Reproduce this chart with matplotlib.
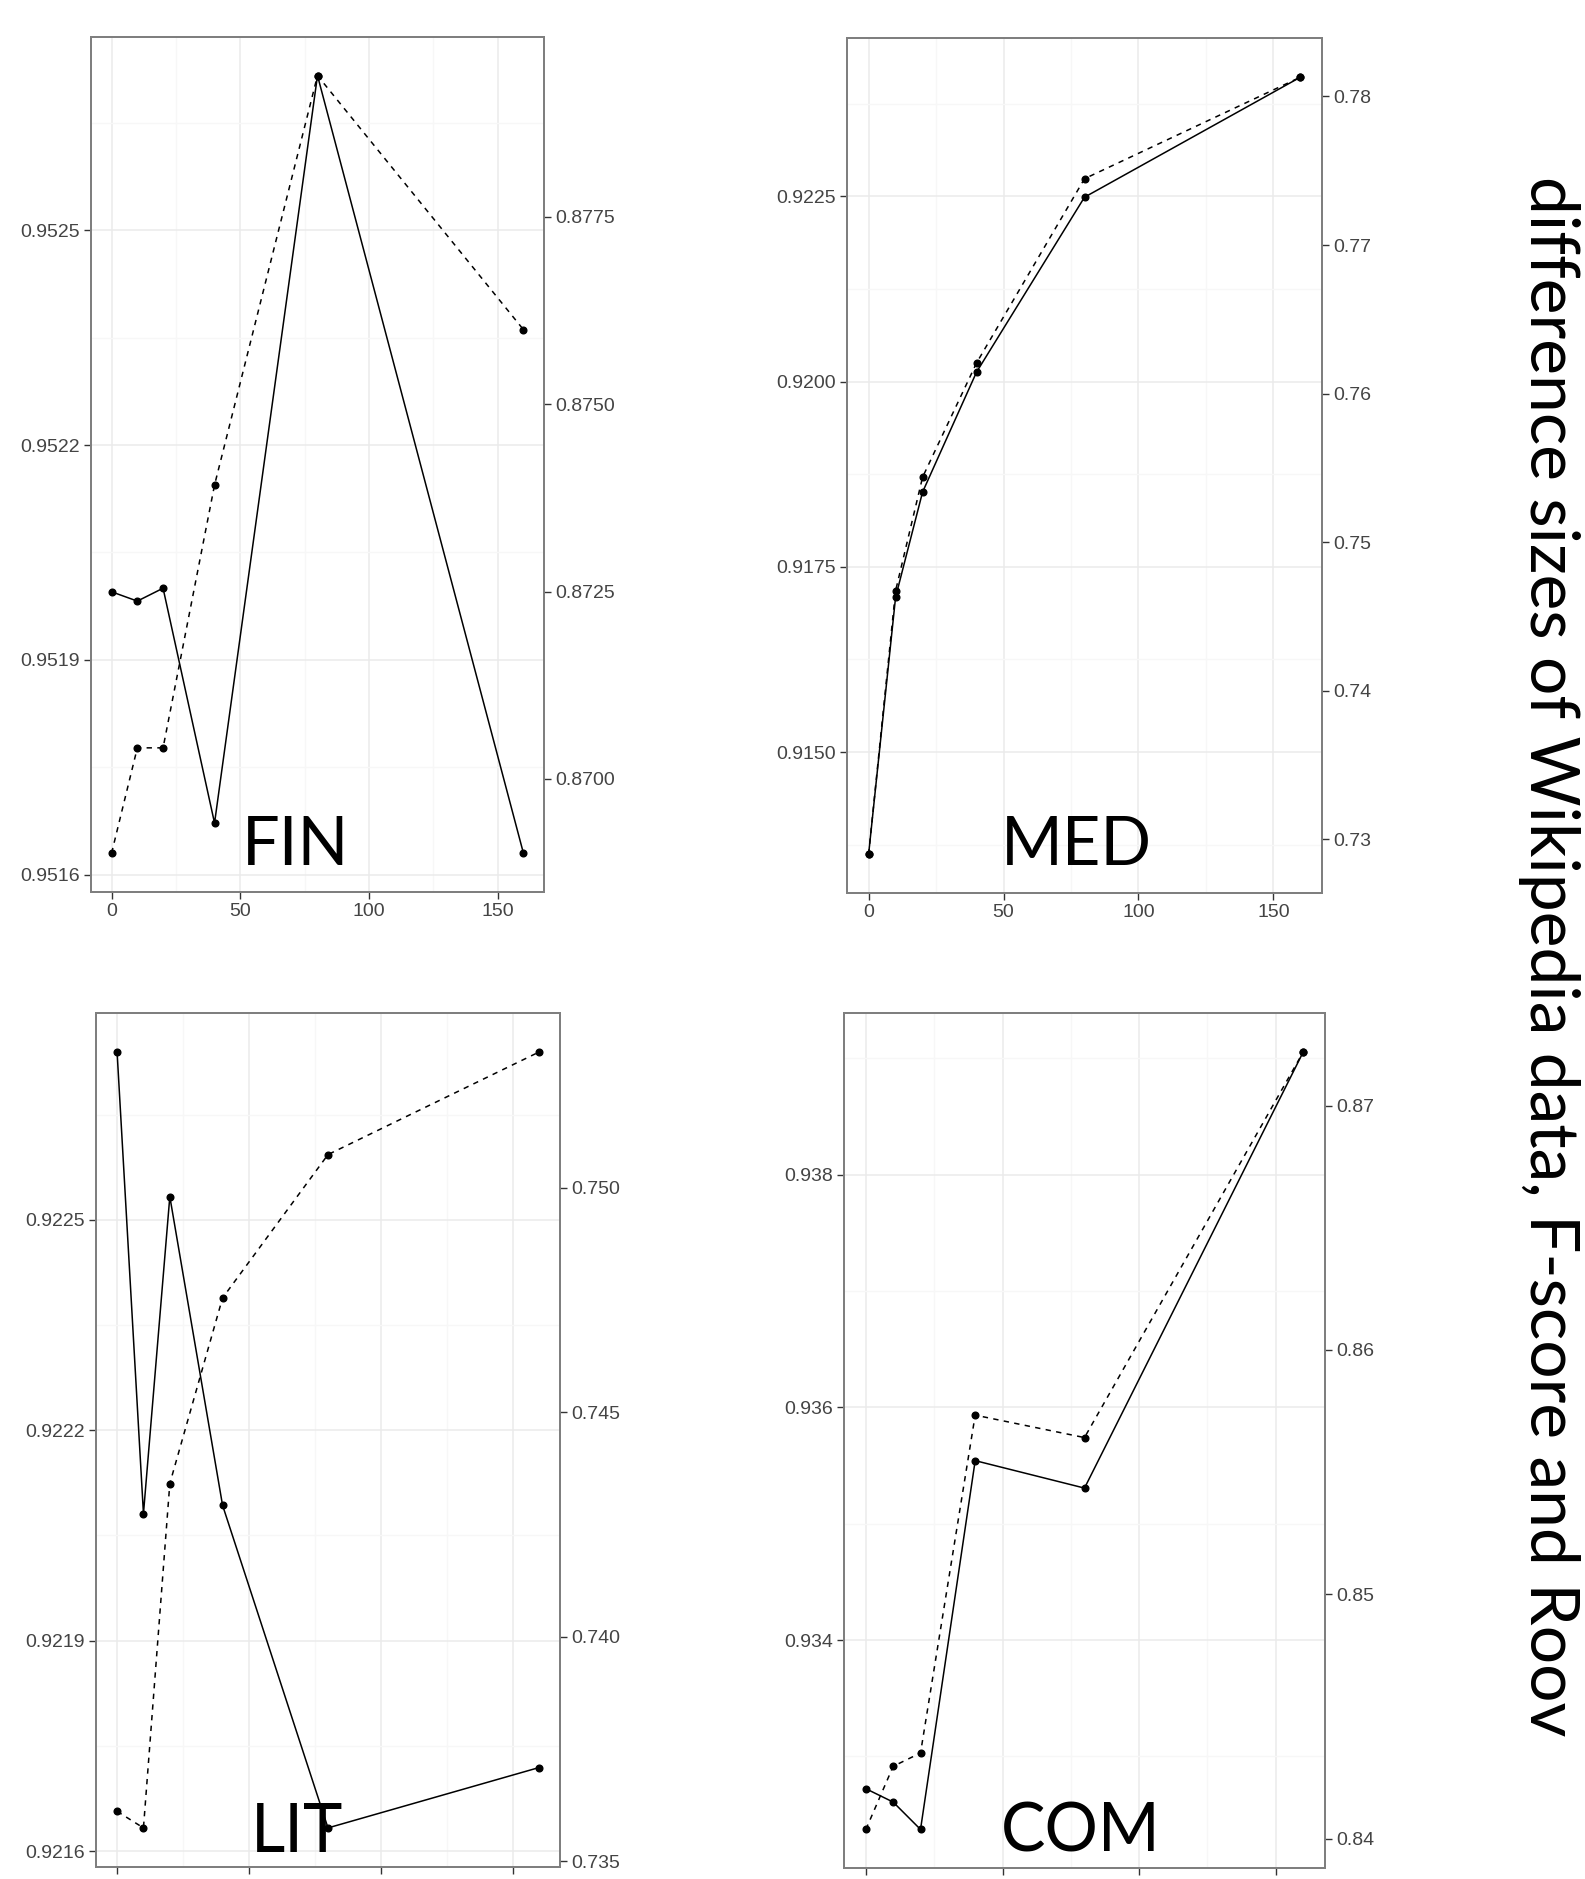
import matplotlib
matplotlib.use("Agg")
import matplotlib.pyplot as plt
from matplotlib.ticker import FixedLocator, MultipleLocator, FormatStrFormatter

W, H = 1585, 1879
DPI = 100

# ---------------- data ----------------
x_sizes = [0, 10, 20, 40, 80, 160]

fin_solid = [0.951995, 0.951982, 0.952000, 0.951672, 0.952716, 0.951630]
fin_dash = [0.869010, 0.870415, 0.870415, 0.873923, 0.879387, 0.875997]

med_solid = [0.913618, 0.917089, 0.918508, 0.920127, 0.922487, 0.924107]
med_dash = [0.728990, 0.746734, 0.754377, 0.762067, 0.774465, 0.781300]

lit_solid = [0.922739, 0.922081, 0.922533, 0.922093, 0.921633, 0.921719]
lit_dash = [0.736112, 0.735743, 0.743410, 0.747542, 0.750734, 0.753016]

com_solid = [0.932722, 0.932607, 0.932372, 0.935542, 0.935306, 0.939053]
com_dash = [0.840385, 0.842968, 0.843514, 0.857335, 0.856417, 0.872185]

x_ticks = [0, 50, 100, 150]
x_minor = [25, 75, 125]

fin_left_ticks = [0.9516, 0.9519, 0.9522, 0.9525]
fin_right_ticks = [0.8700, 0.8725, 0.8750, 0.8775]
med_left_ticks = [0.9150, 0.9175, 0.9200, 0.9225]
med_right_ticks = [0.73, 0.74, 0.75, 0.76, 0.77, 0.78]
lit_left_ticks = [0.9216, 0.9219, 0.9222, 0.9225]
lit_right_ticks = [0.735, 0.740, 0.745, 0.750]
com_left_ticks = [0.934, 0.936, 0.938]
com_right_ticks = [0.84, 0.85, 0.86, 0.87]

panel_names = ["FIN", "MED", "LIT", "COM"]
side_title = "difference sizes of Wikipedia data, F-score and Roov"

# ---------------- layout (pixels) ----------------
panels = [
    dict(name="FIN", solid=fin_solid, dash=fin_dash,
         lt=fin_left_ticks, lf="%.4f", lminor=0.00015,
         rt=fin_right_ticks, rf="%.4f",
         box=(91, 544, 36.7, 892), lab=(296, 865), xlabels=True),
    dict(name="MED", solid=med_solid, dash=med_dash,
         lt=med_left_ticks, lf="%.4f", lminor=0.00125,
         rt=med_right_ticks, rf="%.2f",
         box=(847, 1322, 38.3, 893.3), lab=(1076, 865), xlabels=True),
    dict(name="LIT", solid=lit_solid, dash=lit_dash,
         lt=lit_left_ticks, lf="%.4f", lminor=0.00015,
         rt=lit_right_ticks, rf="%.3f",
         box=(96, 560, 1013.3, 1866.7), lab=(297, 1851.7), xlabels=False),
    dict(name="COM", solid=com_solid, dash=com_dash,
         lt=com_left_ticks, lf="%.3f", lminor=0.001,
         rt=com_right_ticks, rf="%.2f",
         box=(844, 1325, 1013.3, 1868.3), lab=(1081, 1851.5), xlabels=False),
]

TICK_FONT = "Liberation Sans"
BIG_FONT = ["Lato", "DejaVu Sans"]
TXT_COL = "#444444"
TICK_COL = "#333333"
BORDER_COL = "#7F7F7F"

fig = plt.figure(figsize=(W / DPI, H / DPI), dpi=DPI)
fig.patch.set_facecolor("white")


def expand(vals, frac=0.05):
    lo, hi = min(vals), max(vals)
    d = (hi - lo) * frac
    return lo - d, hi + d


for p in panels:
    l, r, t, b = p["box"]
    ax = fig.add_axes([l / W, 1 - b / H, (r - l) / W, (b - t) / H])
    ax2 = ax.twinx()
    ax.set_zorder(1)
    ax2.set_zorder(2)
    ax.set_facecolor("white")
    ax2.patch.set_visible(False)

    ax.plot(x_sizes, p["solid"], color="black", lw=1.1, marker="o",
            ms=4.8, mec="black", mfc="black", zorder=3)
    ax2.plot(x_sizes, p["dash"], color="black", lw=1.1, ls=(0, (3.5, 3.5)),
             marker="o", ms=4.8, mec="black", mfc="black", zorder=3)

    ax.set_xlim(-8, 168)
    ax.set_ylim(*expand(p["solid"]))
    ax2.set_ylim(*expand(p["dash"]))

    ax.xaxis.set_major_locator(FixedLocator(x_ticks))
    ax.xaxis.set_minor_locator(FixedLocator(x_minor))
    ax.yaxis.set_major_locator(FixedLocator(p["lt"]))
    ax.yaxis.set_minor_locator(MultipleLocator(p["lminor"]))
    ax.yaxis.set_major_formatter(FormatStrFormatter(p["lf"]))
    ax2.yaxis.set_major_locator(FixedLocator(p["rt"]))
    ax2.yaxis.set_minor_locator(FixedLocator([]))
    ax2.yaxis.set_major_formatter(FormatStrFormatter(p["rf"]))

    ax.grid(which="major", color="#EBEBEB", lw=1.1, zorder=0)
    ax.grid(which="minor", color="#F7F7F7", lw=1.0, zorder=0)
    ax.set_axisbelow(True)
    ax2.grid(False)

    ax.tick_params(which="major", direction="out", length=5, width=1.0,
                   color=TICK_COL, labelcolor=TXT_COL, labelsize=14, pad=3,
                   left=True, right=False, bottom=True, top=False,
                   labelbottom=p["xlabels"])
    ax.tick_params(which="minor", length=0)
    ax2.tick_params(which="major", direction="out", length=5, width=1.0,
                    color=TICK_COL, labelcolor=TXT_COL, labelsize=14, pad=3,
                    right=True, left=False)
    ax2.tick_params(which="minor", length=0)
    for lab in ax.get_xticklabels() + ax.get_yticklabels() + ax2.get_yticklabels():
        lab.set_fontfamily(TICK_FONT)

    for a in (ax, ax2):
        for s in a.spines.values():
            s.set_color(BORDER_COL)
            s.set_linewidth(1.4)

    lx, ly = p["lab"]
    fig.text(lx / W, 1 - ly / H, p["name"], ha="center", va="baseline",
             fontsize=48, family=BIG_FONT, color="black")

# side title, sized to span the measured length
target_len = 1559.0
st = fig.text(1530 / W, 1 - 956 / H, side_title, rotation=-90,
              rotation_mode="anchor", ha="center", va="baseline",
              fontsize=47, family=BIG_FONT, color="black")
fig.canvas.draw()
ext = st.get_window_extent(fig.canvas.get_renderer())
st.set_fontsize(47 * target_len / ext.height)

fig.savefig("out.png", dpi=DPI, facecolor="white")
